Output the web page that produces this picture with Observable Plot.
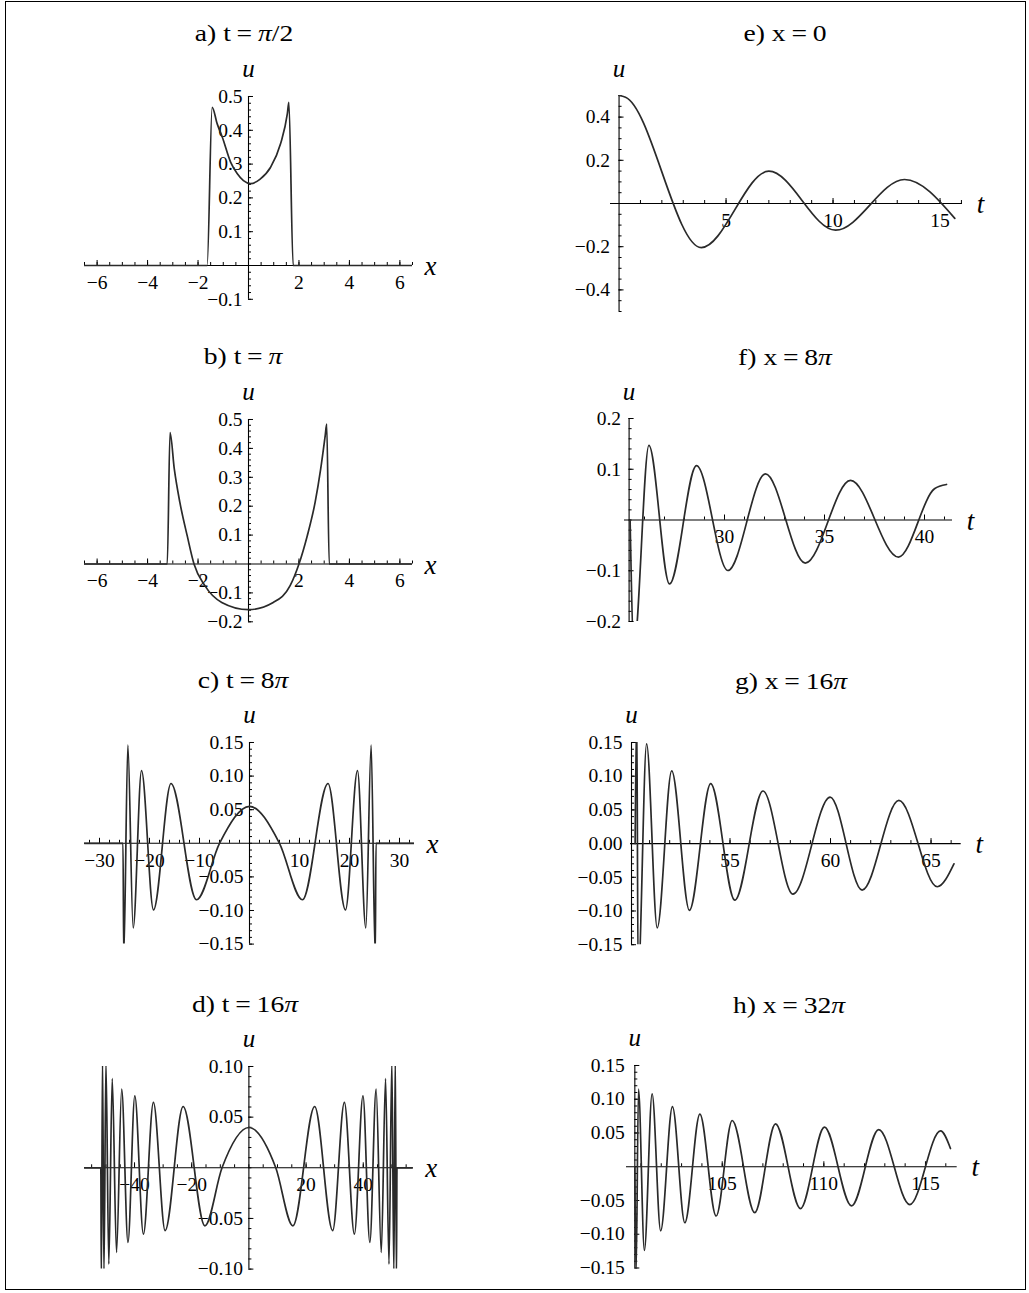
<!DOCTYPE html>
<html>
<head>
<meta charset="utf-8">
<script src="https://cdn.jsdelivr.net/npm/d3@7"></script>
<script src="https://cdn.jsdelivr.net/npm/@observablehq/plot@0.6"></script>
<style>
  html, body { margin: 0; padding: 0; background: #fff; }
  #page { position: relative; width: 1029px; height: 1293px; overflow: hidden; background: #fff;
          font-family: "Liberation Serif", "Times New Roman", serif; color: #000; }
  #frame { position: absolute; left: 5px; top: 1px; width: 1021px; height: 1289px; border: 1px solid #000; box-sizing: border-box; }
  .title { position: absolute; font-size: 24px; line-height: 1; white-space: nowrap; transform: translate(-50%, -50%) scaleX(1.15); }
  .title i { font-style: italic; }
  .title .eq { margin: 0 5px; }
  svg.panel { position: absolute; }
</style>
</head>
<body>
<div id="page"><div id="frame"></div></div>
<script>
// ---------- titles ----------
const titles = ["a) t=π/2", "b) t=π", "c) t=8π", "d) t=16π", "e) x=0", "f) x=8π", "g) x=16π", "h) x=32π"];

// ---------- series ----------
// a) t = π/2
const aX = [-6.5, -1.64, -1.44, -1.24, -1.04, -0.71, -0.45, -0.2, 0.08, 0.45, 0.87, 1.27, 1.54, 1.6, 1.77, 6.5];
const aU = [0, 0, 0.468, 0.419, 0.38, 0.306, 0.272, 0.251, 0.242, 0.255, 0.29, 0.36, 0.449, 0.483, 0, 0];
// b) t = π
const bX = [-6.5, -3.22, -3.11, -2.94, -2.72, -2.43, -2.16, -1.73, -1.06, 0, 0.98, 1.65, 2.0, 2.33, 2.64, 2.86, 3.04, 3.1, 3.2, 6.5];
const bU = [0, 0, 0.455, 0.328, 0.213, 0.098, 0, -0.075, -0.133, -0.158, -0.133, -0.075, 0, 0.098, 0.213, 0.328, 0.444, 0.484, 0, 0];
// c) t = 8π
const cX = [-33, -25.3, -25.15, -24.33, -23.27, -21.6, -19.2, -15.7, -10.6, -6.0, 0, 6.0, 10.6, 15.7, 19.2, 21.6, 23.27, 24.33, 25.15, 25.3, 33];
const cU = [0, 0, -0.17, 0.146, -0.126, 0.108, -0.099, 0.089, -0.084, 0, 0.055, 0, -0.084, 0.089, -0.099, 0.108, -0.126, 0.146, -0.17, 0, 0];
// d) t = 16π
const dX = [-57.5, -51.8, -51.6, -51.2, -50.7, -50.0, -49.0, -47.8, -46.3, -44.5, -42.3, -39.9, -36.9, -33.4, -29.3, -23.0, -15.4, -9.4, 0,
            9.4, 15.4, 23.0, 29.3, 33.4, 36.9, 39.9, 42.3, 44.5, 46.3, 47.8, 49.0, 50.0, 50.7, 51.2, 51.6, 51.8, 57.5];
const dU = [0, 0, -0.11, 0.11, -0.105, 0.105, -0.095, 0.088, -0.0836, 0.0777, -0.0737, 0.071, -0.0655, 0.0645, -0.062, 0.0605, -0.0573, 0, 0.0398,
            0, -0.0573, 0.0605, -0.062, 0.0645, -0.0655, 0.071, -0.0737, 0.0777, -0.0836, 0.088, -0.095, 0.105, -0.105, 0.11, -0.11, 0, 0];
// e) x = 0
const eT = [0, 0.3, 3.84, 7.0, 10.12, 13.34, 15.69];
const eU = [0.5, 0.492, -0.204, 0.1495, -0.1236, 0.111, -0.069];
// f) x = 8π
const fT = [25.28, 25.47, 26.22, 27.25, 28.6, 30.17, 32.05, 34.04, 36.3, 38.7, 40.5, 41.1];
const fU = [0, -0.25, 0.147, -0.126, 0.107, -0.0995, 0.091, -0.085, 0.078, -0.073, 0.0615, 0.07];
// g) x = 16π
const gT = [50.28, 50.36, 50.43, 50.85, 51.38, 52.1, 52.98, 54.04, 55.24, 56.64, 58.13, 59.98, 61.57, 63.4, 65.31, 66.14];
const gU = [0, 0.2, -0.2, 0.148, -0.125, 0.108, -0.099, 0.089, -0.084, 0.078, -0.075, 0.069, -0.069, 0.064, -0.064, -0.03];
// h) x = 32π
const hT = [100.7, 100.76, 100.88, 101.17, 101.55, 101.97, 102.55, 103.16, 103.9, 104.7, 105.49, 106.6, 107.62, 108.85, 110.03, 111.36, 112.7, 114.23, 115.74, 116.23];
const hU = [0, -0.16, 0.115, -0.124, 0.108, -0.095, 0.089, -0.083, 0.078, -0.073, 0.0685, -0.068, 0.0636, -0.062, 0.0587, -0.058, 0.055, -0.056, 0.053, 0.027];

// ---------- tick labels ----------
const aXTicks = [-6, -4, -2, 2, 4, 6], aYTicks = [-0.1, 0.1, 0.2, 0.3, 0.4, 0.5];
const bXTicks = [-6, -4, -2, 2, 4, 6], bYTicks = [-0.2, -0.1, 0.1, 0.2, 0.3, 0.4, 0.5];
const cXTicks = [-30, -20, -10, 10, 20, 30], cYTicks = [-0.15, -0.1, -0.05, 0.05, 0.1, 0.15];
const dXTicks = [-40, -20, 20, 40], dYTicks = [-0.1, -0.05, 0.05, 0.1];
const eXTicks = [5, 10, 15], eYTicks = [-0.4, -0.2, 0.2, 0.4];
const fXTicks = [30, 35, 40], fYTicks = [-0.2, -0.1, 0.1, 0.2];
const gXTicks = [55, 60, 65], gYTicks = [-0.15, -0.1, -0.05, 0, 0.05, 0.1, 0.15];
const hXTicks = [105, 110, 115], hYTicks = [-0.15, -0.1, -0.05, 0.05, 0.1, 0.15];

// ---------- layout ----------
const minus = s => s.replace("-", "\u2212");
const f0 = d => minus(d3.format("d")(d));
const f1 = d => minus(d3.format(".1f")(d));
const f2 = d => minus(d3.format(".2f")(d));

const panels = [
  {title: titles[0], xs: aX, us: aU, xd: [-6.5, 6.5], yd: [-0.1, 0.5], box: [84, 412, 96, 298.8], yAt: 0,
   xt: aXTicks, yt: aYTicks, xm: d3.range(-6.5, 6.51, 0.5), ym: d3.range(-0.1, 0.501, 0.02), xf: f0, yf: f1,
   lab: "x", tpos: [244, 33], gap: 6},
  {title: titles[1], xs: bX, us: bU, xd: [-6.5, 6.5], yd: [-0.2, 0.5], box: [84, 412, 418.8, 621.1], yAt: 0,
   xt: bXTicks, yt: bYTicks, xm: d3.range(-6.5, 6.51, 0.5), ym: d3.range(-0.2, 0.501, 0.02), xf: f0, yf: f1,
   lab: "x", tpos: [243, 356], gap: 6},
  {title: titles[2], xs: cX, us: cU, xd: [-33, 33], yd: [-0.15, 0.15], box: [83.5, 413.5, 741.9, 943.5], yAt: 0,
   xt: cXTicks, yt: cYTicks, xm: d3.range(-32, 32.1, 2), ym: d3.range(-0.15, 0.1501, 0.01), xf: f0, yf: f2,
   lab: "x", tpos: [243, 680], gap: 6},
  {title: titles[3], xs: dX, us: dU, xd: [-57.5, 57.5], yd: [-0.1, 0.1], box: [83.9, 412.7, 1065.7, 1268.3], yAt: 0,
   xt: dXTicks, yt: dYTicks, xm: d3.range(-55, 55.1, 5), ym: d3.range(-0.1, 0.1001, 0.01), xf: f0, yf: f2,
   lab: "x", tpos: [245, 1004], gap: 6},
  {title: titles[4], xs: eT, us: eU, xd: [-0.4, 16.05], yd: [-0.5, 0.5], box: [610, 962, 95.3, 311.3], yAt: 0,
   xt: eXTicks, yt: eYTicks, xm: d3.range(1, 16.1, 1), ym: d3.range(-0.5, 0.501, 0.05), xf: f0, yf: f1,
   lab: "t", tpos: [785, 33], gap: 9},
  {title: titles[5], xs: fT, us: fU, xd: [25.0, 41.4], yd: [-0.2, 0.2], box: [623.5, 951.5, 418, 621], yAt: 25.23,
   xt: fXTicks, yt: fYTicks, xm: d3.range(26, 41.1, 1), ym: d3.range(-0.2, 0.201, 0.02), xf: f0, yf: f1,
   lab: "t", tpos: [785, 357], gap: 8},
  {title: titles[6], xs: gT, us: gU, xd: [50.05, 66.5], yd: [-0.15, 0.15], box: [630, 960.7, 741.6, 943.8], yAt: 50.1,
   xt: gXTicks, yt: gYTicks, xm: d3.range(51, 66.1, 1), ym: d3.range(-0.15, 0.1501, 0.01), xf: f0, yf: f2,
   lab: "t", tpos: [791, 681], gap: 9},
  {title: titles[7], xs: hT, us: hU, xd: [100.29, 116.56], yd: [-0.15, 0.15], box: [626, 956.7, 1065, 1267.5], yAt: 100.7,
   xt: hXTicks, yt: hYTicks, xm: d3.range(101, 116.1, 1), ym: d3.range(-0.15, 0.1501, 0.01), xf: f0, yf: f2,
   lab: "t", tpos: [789, 1005], gap: 10}
];

const page = document.getElementById("page");
const mL = 64, mR = 40, mT = 40, mB = 32;

function titleHTML(s) {
  return s.replace("=", '<span class="eq">=</span>').replace("π", "<i>π</i>");
}

for (const p of panels) {
  const [x0, x1, y0, y1] = p.box;
  const data = p.xs.map((x, i) => ({x, u: p.us[i]}));
  const svg = Plot.plot({
    width: (x1 - x0) + mL + mR,
    height: (y1 - y0) + mT + mB,
    marginLeft: mL, marginRight: mR, marginTop: mT, marginBottom: mB,
    x: {domain: p.xd, axis: null},
    y: {domain: p.yd, axis: null},
    style: {fontFamily: "'Liberation Serif', 'Times New Roman', serif", fontSize: "19.5px", color: "#000", background: "none", overflow: "visible"},
    marks: [
      Plot.ruleY([0], {stroke: "#000", strokeWidth: 1.1}),
      Plot.ruleX([p.yAt], {stroke: "#000", strokeWidth: 1.1}),
      Plot.ruleX(p.xm, {x: d => d, y1: 0, y2: 0, insetTop: -3, stroke: "#000", strokeWidth: 1}),
      Plot.ruleX(p.xt, {x: d => d, y1: 0, y2: 0, insetTop: -5, stroke: "#000", strokeWidth: 1}),
      Plot.ruleY(p.ym, {y: d => d, x1: p.yAt, x2: p.yAt, insetRight: -3, stroke: "#000", strokeWidth: 1}),
      Plot.ruleY(p.yt, {y: d => d, x1: p.yAt, x2: p.yAt, insetRight: -5, stroke: "#000", strokeWidth: 1}),
      Plot.text(p.xt, {x: d => d, y: 0, text: p.xf, dy: 17, fill: "#000"}),
      Plot.text(p.yt, {x: p.yAt, y: d => d, text: p.yf, textAnchor: "end", dx: -p.gap, fill: "#000"}),
      Plot.line(data, {x: "x", y: "u", curve: "monotone-x", stroke: "#2a2a2a", strokeWidth: 1.7, clip: true}),
      Plot.text(["u"], {x: p.yAt, y: p.yd[1], text: d => d, dy: -27, fontStyle: "italic", fontSize: 25, fill: "#000"}),
      Plot.text([p.lab], {x: p.xd[1], y: 0, text: d => d, dx: 18, dy: 1, fontStyle: "italic", fontSize: 27, fill: "#000"})
    ]
  });
  svg.classList.add("panel");
  svg.style.left = (x0 - mL) + "px";
  svg.style.top = (y0 - mT) + "px";
  page.appendChild(svg);

  const t = document.createElement("div");
  t.className = "title";
  t.innerHTML = titleHTML(p.title);
  t.style.left = p.tpos[0] + "px";
  t.style.top = p.tpos[1] + "px";
  page.appendChild(t);
}
</script>
</body>
</html>
